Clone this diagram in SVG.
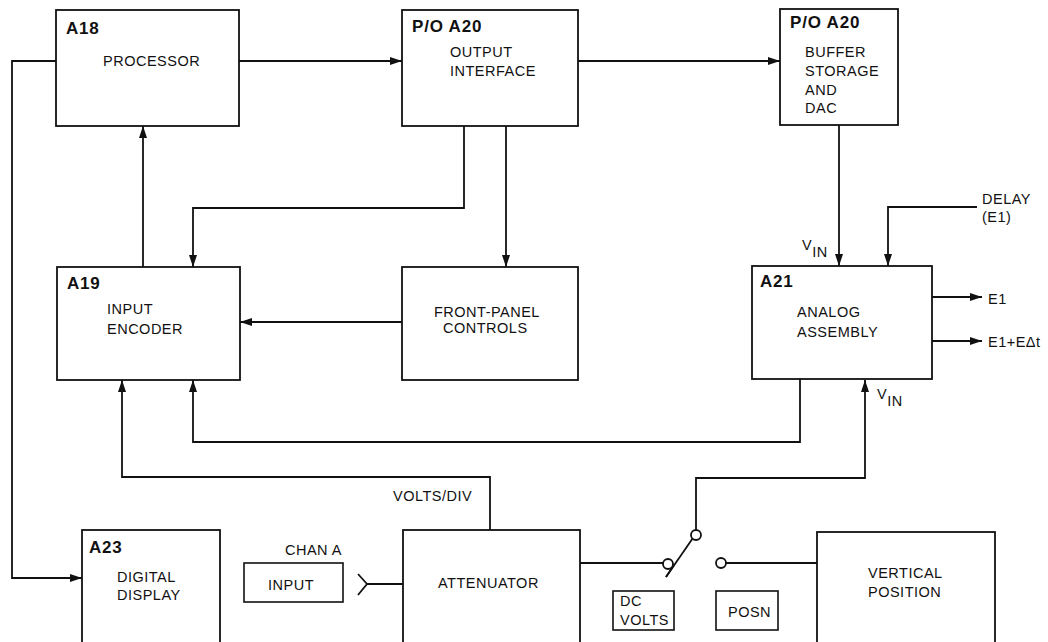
<svg xmlns="http://www.w3.org/2000/svg" width="1048" height="642" viewBox="0 0 1048 642">
<style>
.box{fill:#fff;stroke:#111;stroke-width:1.8}
.sbox{fill:#fff;stroke:#111;stroke-width:1.6}
.ln{fill:none;stroke:#111;stroke-width:1.8}
.t{font-family:"Liberation Sans",Arial,sans-serif;font-size:14.5px;letter-spacing:0.5px;fill:#111}
.b{font-family:"Liberation Sans",Arial,sans-serif;font-size:17px;font-weight:bold;letter-spacing:0.8px;fill:#111}
.arr{marker-end:url(#ah)}
</style>
<defs>
<marker id="ah" markerUnits="userSpaceOnUse" markerWidth="12" markerHeight="8" refX="12" refY="4" orient="auto">
<path d="M0,0 L12,4 L0,8 z" fill="#111"/>
</marker>
</defs>
<rect width="1048" height="642" fill="#fff"/>
<g id="connectors">
<path class="ln arr" d="M56,61 H12 V578 H82"/>
<path class="ln arr" d="M239,61 H402"/>
<path class="ln arr" d="M578,61 H780"/>
<path class="ln arr" d="M464,126 V208 H193 V267"/>
<path class="ln arr" d="M506,126 V267"/>
<path class="ln arr" d="M143,267 V126"/>
<path class="ln arr" d="M402,322 H240"/>
<path class="ln arr" d="M839,125 V266"/>
<path class="ln arr" d="M977,207 H888 V266"/>
<path class="ln arr" d="M932,297 H982"/>
<path class="ln arr" d="M932,341 H982"/>
<path class="ln arr" d="M800,379 V442 H193 V380"/>
<path class="ln arr" d="M490,530 V477 H122 V380"/>
<path class="ln" d="M358,574 L367,584 L358,595 M367,584 H403"/>
<path class="ln" d="M580,563 H663"/>
<path class="ln arr" d="M696,530 V478 H865 V380"/>
<path class="ln" d="M726,563 H817"/>
<path class="ln" d="M666,577 L695,535"/>
<circle cx="668" cy="564" r="5" fill="#fff" stroke="#111" stroke-width="1.8"/>
<circle cx="696" cy="535" r="5" fill="#fff" stroke="#111" stroke-width="1.8"/>
<circle cx="721" cy="563" r="5" fill="#fff" stroke="#111" stroke-width="1.8"/>
<path class="ln" d="M666,577 L674,565"/>
</g>
<g id="a18">
<rect class="box" x="56" y="10" width="183" height="116"/>
<text class="b" x="66" y="34">A18</text>
<text class="t" x="103" y="66">PROCESSOR</text>
</g>
<g id="output-interface">
<rect class="box" x="402" y="10" width="176" height="116"/>
<text class="b" x="412" y="32">P/O A20</text>
<text class="t" x="450" y="57">OUTPUT</text>
<text class="t" x="450" y="76">INTERFACE</text>
</g>
<g id="buffer">
<rect class="box" x="780" y="9" width="118" height="116"/>
<text class="b" x="790" y="28">P/O A20</text>
<text class="t" x="805" y="57">BUFFER</text>
<text class="t" x="805" y="76">STORAGE</text>
<text class="t" x="805" y="95">AND</text>
<text class="t" x="805" y="113">DAC</text>
</g>
<g id="a19">
<rect class="box" x="57" y="267" width="183" height="113"/>
<text class="b" x="67" y="289">A19</text>
<text class="t" x="107" y="314">INPUT</text>
<text class="t" x="107" y="334">ENCODER</text>
</g>
<g id="front-panel">
<rect class="box" x="402" y="267" width="176" height="113"/>
<text class="t" x="434" y="317">FRONT-PANEL</text>
<text class="t" x="443" y="333">CONTROLS</text>
</g>
<g id="a21">
<rect class="box" x="752" y="266" width="180" height="113"/>
<text class="b" x="760" y="287">A21</text>
<text class="t" x="797" y="317">ANALOG</text>
<text class="t" x="797" y="337">ASSEMBLY</text>
</g>
<g id="labels">
<text class="t" x="802" y="250">V<tspan dy="7">IN</tspan></text>
<text class="t" x="877" y="399">V<tspan dy="7">IN</tspan></text>
<text class="t" x="982" y="204">DELAY</text>
<text class="t" x="982" y="222">(E1)</text>
<text class="t" x="988" y="304">E1</text>
<text class="t" x="988" y="347">E1+EΔt</text>
<text class="t" x="393" y="501">VOLTS/DIV</text>
<text class="t" x="285" y="555">CHAN A</text>
</g>
<g id="a23">
<rect class="box" x="82" y="530" width="138" height="130"/>
<text class="b" x="89" y="553">A23</text>
<text class="t" x="117" y="582">DIGITAL</text>
<text class="t" x="117" y="600">DISPLAY</text>
</g>
<g id="input">
<rect class="sbox" x="244" y="563" width="99" height="39"/>
<text class="t" x="268" y="590">INPUT</text>
</g>
<g id="attenuator">
<rect class="box" x="403" y="530" width="177" height="130"/>
<text class="t" x="438" y="588">ATTENUATOR</text>
</g>
<g id="dc-volts">
<rect class="sbox" x="613" y="591" width="61" height="39"/>
<text class="t" x="620" y="606">DC</text>
<text class="t" x="620" y="625">VOLTS</text>
</g>
<g id="posn">
<rect class="sbox" x="716" y="591" width="62" height="39"/>
<text class="t" x="728" y="617">POSN</text>
</g>
<g id="vertical-position">
<rect class="box" x="817" y="532" width="178" height="130"/>
<text class="t" x="868" y="578">VERTICAL</text>
<text class="t" x="868" y="597">POSITION</text>
</g>
</svg>
